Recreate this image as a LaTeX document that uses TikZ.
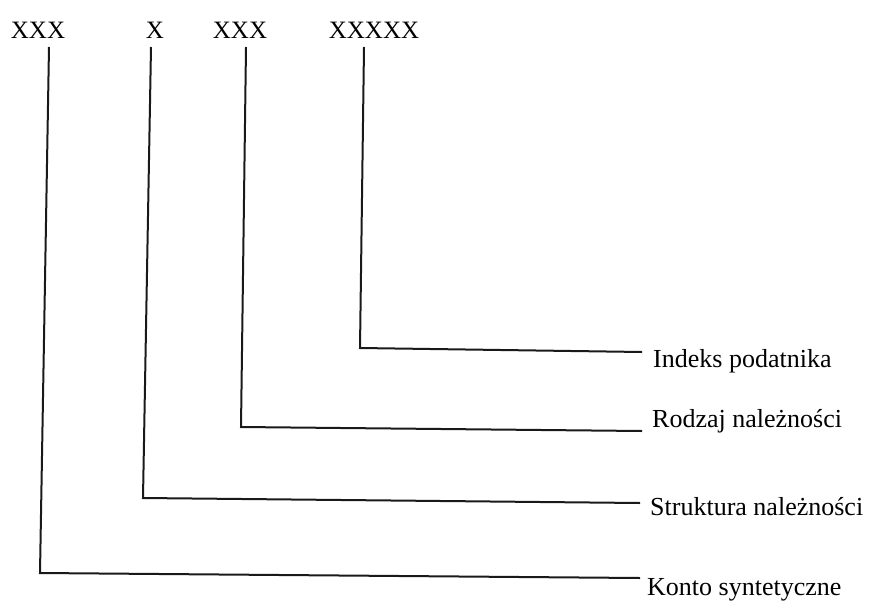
\documentclass[tikz,border=0pt]{standalone}
\usepackage{fontspec}
\setmainfont{Liberation Serif}
\begin{document}
\begin{tikzpicture}[x=1pt,y=-1pt,
  toptext/.style={inner sep=0pt,anchor=base,font=\fontsize{25}{30}\selectfont},
  labeltext/.style={inner sep=0pt,anchor=base west,font=\fontsize{26}{31}\selectfont},
  leader/.style={line width=2pt,black!90}]
\useasboundingbox (0,0) rectangle (869,610);
% top code groups
\node[toptext] (t1) at (38,38) {XXX};
\node[toptext] (t2) at (155,38) {X};
\node[toptext] (t3) at (240,38) {XXX};
\node[toptext] (t4) at (374,38) {XXXXX};
% labels
\node[labeltext] (l4) at (653,367) {Indeks podatnika};
\node[labeltext] (l3) at (652,427) {Rodzaj należności};
\node[labeltext] (l2) at (650,515) {Struktura należności};
\node[labeltext] (l1) at (647,595) {Konto syntetyczne};
% line anchor points
\coordinate (a1) at (49,47);  \coordinate (c1) at (40,573);  \coordinate (e1) at (640,578);
\coordinate (a2) at (151,47); \coordinate (c2) at (143,498); \coordinate (e2) at (640,503);
\coordinate (a3) at (246,47); \coordinate (c3) at (241,427); \coordinate (e3) at (642,431);
\coordinate (a4) at (364,47); \coordinate (c4) at (360,348); \coordinate (e4) at (642,352);
\draw[leader] (a1) -- (c1) -- (e1);
\draw[leader] (a2) -- (c2) -- (e2);
\draw[leader] (a3) -- (c3) -- (e3);
\draw[leader] (a4) -- (c4) -- (e4);
\end{tikzpicture}
\end{document}
